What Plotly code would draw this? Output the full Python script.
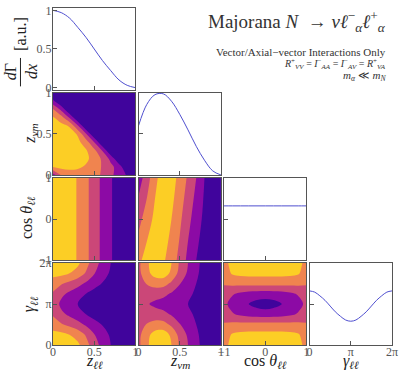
import numpy as np
import plotly.graph_objects as go
from plotly.subplots import make_subplots

PI = np.pi

# sample positions
z_grid = [0.0, 0.1, 0.2, 0.3, 0.4, 0.5, 0.6, 0.7, 0.8, 0.9, 1.0]
cos_grid = [-1.0, -0.8, -0.6, -0.4, -0.2, 0.0, 0.2, 0.4, 0.6, 0.8, 1.0]
gamma_grid = [0, 0.25 * PI, 0.5 * PI, 0.75 * PI, PI, 1.25 * PI, 1.5 * PI, 1.75 * PI, 2 * PI]
gamma_fine = [k * PI / 8 for k in range(17)]

# 1D distributions (diagonal)
dist_zll = [1.0, 0.97, 0.9, 0.78, 0.65, 0.5, 0.35, 0.22, 0.1, 0.03, 0.0]
dist_znm = [0.6, 0.86, 0.98, 0.99, 0.9, 0.74, 0.55, 0.35, 0.18, 0.05, 0.0]
dist_cos = [0.66] * 11
dist_gamma = [0.66, 0.645, 0.6, 0.545, 0.475, 0.405, 0.35, 0.305, 0.29,
              0.305, 0.35, 0.405, 0.475, 0.545, 0.6, 0.645, 0.66]

# z_nm (rows) vs z_ll (columns)
znm_vs_zll = [
    [0.3, 0.62, 0.7, 0.72, 0.7, 0.65, 0.58, 0.45, 0.3, 0.18, 0.0],
    [0.82, 0.86, 0.86, 0.83, 0.78, 0.7, 0.58, 0.46, 0.3, 0.0, 0.0],
    [0.92, 0.93, 0.92, 0.89, 0.84, 0.73, 0.56, 0.34, 0.0, 0.0, 0.0],
    [0.96, 0.95, 0.93, 0.88, 0.82, 0.65, 0.38, 0.0, 0.0, 0.0, 0.0],
    [0.97, 0.95, 0.91, 0.85, 0.7, 0.4, 0.0, 0.0, 0.0, 0.0, 0.0],
    [0.95, 0.93, 0.89, 0.78, 0.42, 0.0, 0.0, 0.0, 0.0, 0.0, 0.0],
    [0.9, 0.86, 0.78, 0.42, 0.0, 0.0, 0.0, 0.0, 0.0, 0.0, 0.0],
    [0.82, 0.68, 0.38, 0.0, 0.0, 0.0, 0.0, 0.0, 0.0, 0.0, 0.0],
    [0.62, 0.35, 0.0, 0.0, 0.0, 0.0, 0.0, 0.0, 0.0, 0.0, 0.0],
    [0.25, 0.0, 0.0, 0.0, 0.0, 0.0, 0.0, 0.0, 0.0, 0.0, 0.0],
    [0.0, 0.0, 0.0, 0.0, 0.0, 0.0, 0.0, 0.0, 0.0, 0.0, 0.0],
]

# cos theta (rows: -1, 0, 1) vs z_ll
cos_vs_zll = [dist_zll, dist_zll, dist_zll]

# cos theta (rows: -1, 0, 1) vs z_nm
cos_vs_znm = [
    [0.75, 0.88, 0.92, 0.83, 0.7, 0.54, 0.35, 0.2, 0.1, 0.03, 0.0],
    [0.53, 0.7, 0.85, 0.87, 0.8, 0.64, 0.46, 0.3, 0.15, 0.05, 0.0],
    [0.3, 0.5, 0.75, 0.9, 0.88, 0.74, 0.57, 0.4, 0.2, 0.06, 0.0],
]

# gamma rows 0 .. pi (mirrored up to 2pi)
gam_vs_zll_half = [
    [1.0, 0.98, 0.92, 0.84, 0.68, 0.48, 0.34, 0.2, 0.1, 0.03, 0.0],
    [0.88, 0.86, 0.8, 0.72, 0.58, 0.41, 0.29, 0.17, 0.085, 0.025, 0.0],
    [0.68, 0.62, 0.55, 0.47, 0.37, 0.27, 0.19, 0.1, 0.05, 0.015, 0.0],
    [0.58, 0.45, 0.36, 0.28, 0.2, 0.13, 0.08, 0.04, 0.015, 0.0, 0.0],
    [0.55, 0.35, 0.27, 0.2, 0.13, 0.08, 0.04, 0.02, 0.0, 0.0, 0.0],
]
gam_vs_znm_half = [
    [0.55, 0.76, 0.92, 0.95, 0.8, 0.57, 0.4, 0.26, 0.12, 0.03, 0.0],
    [0.54, 0.74, 0.88, 0.9, 0.76, 0.53, 0.37, 0.24, 0.11, 0.03, 0.0],
    [0.52, 0.61, 0.68, 0.68, 0.56, 0.41, 0.3, 0.2, 0.1, 0.025, 0.0],
    [0.51, 0.5, 0.48, 0.45, 0.38, 0.3, 0.24, 0.17, 0.09, 0.02, 0.0],
    [0.5, 0.42, 0.36, 0.32, 0.28, 0.24, 0.2, 0.14, 0.08, 0.02, 0.0],
]
gam_vs_cos_half = [
    [0.72, 0.88, 0.93, 0.94, 0.95, 0.95, 0.95, 0.94, 0.93, 0.88, 0.72],
    [0.7, 0.82, 0.85, 0.86, 0.86, 0.86, 0.86, 0.86, 0.85, 0.82, 0.7],
    [0.62, 0.65, 0.66, 0.67, 0.67, 0.67, 0.67, 0.67, 0.66, 0.65, 0.62],
    [0.5, 0.42, 0.36, 0.32, 0.31, 0.3, 0.31, 0.32, 0.36, 0.42, 0.5],
    [0.45, 0.33, 0.24, 0.2, 0.13, 0.1, 0.13, 0.2, 0.24, 0.33, 0.45],
]


def mirror(rows):
    return rows + rows[-2::-1]


band_colors = ['#40049c', '#8c0aa5', '#cb4778', '#f0844f', '#fcce25']
scale = []
for i, c in enumerate(band_colors):
    scale += [[i / 5, c], [(i + 1) / 5, c]]

fig = make_subplots(
    rows=4, cols=4,
    specs=[[{}, None, None, None],
           [{}, {}, None, None],
           [{}, {}, {}, None],
           [{}, {}, {}, {}]],
    horizontal_spacing=0.009, vertical_spacing=0.009)


def contour(x, y, z, row, col):
    fig.add_trace(go.Contour(
        x=x, y=y, z=z, zmin=0, zmax=1, autocontour=False,
        contours=dict(start=0.2, end=0.8, size=0.2, coloring='fill'),
        colorscale=scale, line=dict(width=0), showscale=False,
        hoverinfo='skip'), row=row, col=col)


def curve(x, y, row, col):
    fig.add_trace(go.Scatter(
        x=x, y=y, mode='lines', line=dict(color='#4f4fcf', width=1, shape='spline'),
        hoverinfo='skip', showlegend=False), row=row, col=col)


curve(z_grid, dist_zll, 1, 1)
curve(z_grid, dist_znm, 2, 2)
curve(cos_grid, dist_cos, 3, 3)
curve(gamma_fine, dist_gamma, 4, 4)

contour(z_grid, z_grid, znm_vs_zll, 2, 1)
contour(z_grid, [-1, 0, 1], cos_vs_zll, 3, 1)
contour(z_grid, [-1, 0, 1], cos_vs_znm, 3, 2)
contour(z_grid, gamma_grid, mirror(gam_vs_zll_half), 4, 1)
contour(z_grid, gamma_grid, mirror(gam_vs_znm_half), 4, 2)
contour(cos_grid, gamma_grid, mirror(gam_vs_cos_half), 4, 3)

tick_font = dict(family='Liberation Serif', size=12, color='#555')
axis_style = dict(showline=True, mirror=True, linecolor='#555', linewidth=1.2,
                  ticks='inside', ticklen=4, tickcolor='#555', tickwidth=1,
                  showgrid=False, zeroline=False, tickfont=tick_font,
                  ticklabeloverflow='allow')

x_ranges = [[0, 1], [0, 1], [-1, 1], [0, 2 * PI]]
x_ticks = [([0, 0.5, 1], ['0', '0.5', '1']),
           ([0, 0.5, 1], ['0', '0.5', '1']),
           ([-1, 0, 1], ['−1', '0', '1']),
           ([0, PI, 2 * PI], ['0', 'π', '2π'])]

for r in range(1, 5):
    for c in range(1, r + 1):
        xr = x_ranges[c - 1]
        tv, tt = x_ticks[c - 1]
        fig.update_xaxes(range=xr, tickvals=tv, ticktext=tt, ticklabelstandoff=-5,
                         showticklabels=(r == 4), row=r, col=c, **axis_style)
        if r == c:
            yr = [-0.03, 1.03] if r == 1 else [0, 1]
            ytv, ytt = [0, 0.5, 1], ['0', '0.5', '1']
        else:
            yr = x_ranges[r - 1]
            ytv, ytt = x_ticks[r - 1]
        fig.update_yaxes(range=yr, tickvals=ytv, ticktext=ytt, ticklabelstandoff=-2,
                         showticklabels=(c == 1), row=r, col=c, **axis_style)

W, H = 399, 370
L, R, T, B = 53, 2, 1, 25
pw, ph = W - L - R, H - T - B


def px(x):
    return (x - L) / pw


def py(y):
    return (H - B - y) / ph


title_font = dict(family='Liberation Serif', size=16, color='#222')
notes = [
    ('[a.u.]', 20, 27, -90),
    ('<i>d</i>Γ<br><i>dx</i>', 20, 66, -90),
    ('<i>z<sub>νm</sub></i>', 30, 129, -90),
    ('cos <i>θ<sub>ℓℓ</sub></i>', 27, 215, -90),
    ('<i>γ<sub>ℓℓ</sub></i>', 30, 303, -90),
    ('<i>z<sub>ℓℓ</sub></i>', 95, 362, 0),
    ('<i>z<sub>νm</sub></i>', 182, 362, 0),
    ('cos <i>θ<sub>ℓℓ</sub></i>', 269, 362, 0),
    ('<i>γ<sub>ℓℓ</sub></i>', 355, 362, 0),
]
for text, x, y, ang in notes:
    fig.add_annotation(text=text, x=px(x), y=py(y), xref='paper', yref='paper',
                       showarrow=False, textangle=ang, font=title_font,
                       xanchor='center', yanchor='middle')

# fraction bar of dGamma/dx
fig.add_shape(type='line', xref='paper', yref='paper',
              x0=px(20), x1=px(20), y0=py(52), y1=py(81),
              line=dict(color='#222', width=1))

header = [
    ('Majorana <i>N</i>  → <i>νℓ</i><sup>−</sup><sub><i>α</i></sub>'
     '<i>ℓ</i><sup>+</sup><sub><i>α</i></sub>', 15, 19),
    ('Vector/Axial−vector Interactions Only', 46, 11),
    ('<i>R</i><sup>+</sup><sub><i>VV</i></sub> = <i>I</i><sup>−</sup><sub><i>AA</i></sub>'
     ' = <i>I</i><sup>−</sup><sub><i>AV</i></sub> = <i>R</i><sup>+</sup><sub><i>VA</i></sub>', 58, 10),
    ('<i>m<sub>α</sub></i> ≪ <i>m<sub>N</sub></i>', 70, 11),
]
for text, y, size in header:
    fig.add_annotation(text=text, x=px(393), y=py(y), xref='paper', yref='paper',
                       showarrow=False, xanchor='right', yanchor='middle',
                       font=dict(family='Liberation Serif', size=size, color='#333'))

fig.update_layout(
    width=W, height=H, margin=dict(l=L, r=R, t=T, b=B),
    paper_bgcolor='white', plot_bgcolor='white', showlegend=False,
    font=dict(family='Liberation Serif'))

fig.write_html("out.html", config={'displayModeBar': False},
               post_script="document.body.style.margin='0';")
